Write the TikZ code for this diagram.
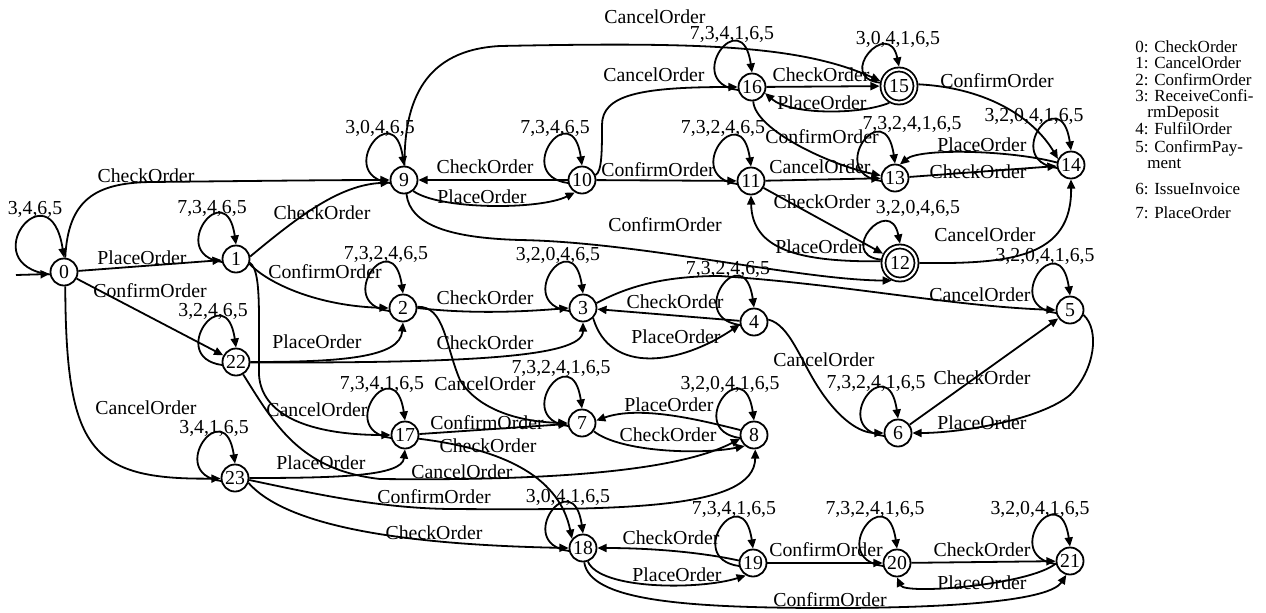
\documentclass[tikz,border=0pt]{standalone}
\usepackage{fontspec}
\setmainfont{Liberation Serif}
\usetikzlibrary{arrows.meta}
\newcommand\lblfont{\fontsize{9.9}{11}\selectfont}
\newcommand\keyfont{\fontsize{8.5}{9}\selectfont}
% self loop on the upper left of a state, with its label
\newcommand\sloop[4]{%
  \draw[e] (#1.192) .. controls +(-56,-8) and +(-10,-71) .. (#1.90);
  \node[lab] (#1-loop) at (#3,#4) {#2};}
\begin{document}
\begin{tikzpicture}[x=0.5pt,y=-0.5pt,
  st/.style={circle,draw,line width=0.9pt,minimum size=13.5pt,inner sep=0pt,font=\lblfont},
  acc/.style={st,double,double distance=1.1pt,minimum size=16.5pt,outer sep=1.45pt},
  e/.style={draw,line width=0.9pt,-{Triangle[length=4.6pt,width=4pt]}},
  lab/.style={inner sep=0pt,font=\lblfont,text height=0.68em,text depth=0pt},
  key/.style={inner sep=0pt,font=\keyfont,anchor=west,text height=0.68em,text depth=0pt}]
\useasboundingbox (0,0) rectangle (1266,612);

% states
\node[st] (n0) at (64,272) {0};
\node[st] (n1) at (236,259) {1};
\node[st] (n2) at (403,308) {2};
\node[st] (n3) at (583,308) {3};
\node[st] (n4) at (754,322) {4};
\node[st] (n5) at (1070,310) {5};
\node[st] (n6) at (898,433) {6};
\node[st] (n7) at (582,423) {7};
\node[st] (n8) at (754,435) {8};
\node[st] (n9) at (404,180) {9};
\node[st] (n10) at (582,180) {10};
\node[st] (n11) at (751,181) {11};
\node[acc] (n12) at (900,263) {12};
\node[st] (n13) at (895,178) {13};
\node[st] (n14) at (1071,165) {14};
\node[acc] (n15) at (899,86) {15};
\node[st] (n16) at (752,87) {16};
\node[st] (n17) at (405,435) {17};
\node[st] (n18) at (583,548) {18};
\node[st] (n19) at (753,563) {19};
\node[st] (n20) at (897,563) {20};
\node[st] (n21) at (1070,561) {21};
\node[st] (n22) at (236,362) {22};
\node[st] (n23) at (235,478) {23};

% initial arrow
\coordinate (init) at (16,275);
\draw[e] (init) -- (n0.188);

% from 0
\draw[e] (n0.190) .. controls +(-78,-10) and +(-14,-92) .. (n0.90);
\node[lab] (n0-loop) at (35,208) {3,4,6,5};
\draw[e] (n0.85) .. controls (68,200) and (95,183) .. (150,182) .. controls (250,181) and (330,180) .. (n9.180);
\node[lab] (l0-9) at (146,176) {CheckOrder};
\draw[e] (n0) -- (n1);
\node[lab] (l0-1) at (142,258) {PlaceOrder};
\draw[e] (n0) -- (n22);
\node[lab] (l0-22) at (150,291) {ConfirmOrder};
\draw[e] (n0.-85) .. controls (66,450) and (90,480) .. (n23.182);
\node[lab] (l0-23) at (146,408) {CancelOrder};

% from 1
\sloop{n1}{7,3,4,6,5}{212}{207}
\draw[e] (n1.10) .. controls (300,215) and (340,185) .. (n9.190);
\node[lab] (l1-9) at (322,213) {CheckOrder};
\draw[e] (n1.-20) .. controls (270,285) and (320,306) .. (n2.180);
\node[lab] (l1-2) at (325,272) {ConfirmOrder};
\draw[e] (n1.-15) .. controls (257,268) and (259,285) .. (259,320) -- (259,375) .. controls (262,420) and (320,435) .. (n17.180);
\node[lab] (l1-17) at (317,410) {CancelOrder};

% from 2
\sloop{n2}{7,3,2,4,6,5}{386}{253}
\draw[e] (n2.0) .. controls (470,314) and (520,312) .. (n3.180);
\node[lab] (l2-3) at (485,298) {CheckOrder};
\draw[e] (n2.5) .. controls (445,306) and (445,345) .. (460,380) .. controls (478,410) and (520,422) .. (n7.180);
\node[lab] (l2-7) at (485,384) {CancelOrder};

% from 3
\sloop{n3}{3,2,0,4,6,5}{558}{254}
\draw[e] (n3.-45) .. controls (610,375) and (680,365) .. (n4.190);
\node[lab] (l3-4) at (676,337) {PlaceOrder};
\draw[e] (n3.20) .. controls (625,288) and (660,276) .. (720,276) .. controls (850,285) and (950,306) .. (n5.180);
\node[lab] (l3-5) at (980,295) {CancelOrder};

% from 4
\sloop{n4}{7,3,2,4,6,5}{728}{268}
\draw[e] (n4) -- (n3);
\node[lab] (l4-3) at (675,302) {CheckOrder};
\draw[e] (n4.10) .. controls (790,325) and (800,360) .. (820,390) .. controls (840,420) and (860,433) .. (n6.180);
\node[lab] (l4-6) at (824,360) {CancelOrder};

% from 5
\sloop{n5}{3,2,0,4,1,6,5}{1045}{255}
\draw[e] (n5.-20) .. controls (1100,330) and (1095,370) .. (1070,395) .. controls (1040,420) and (960,433) .. (n6.0);
\node[lab] (l5-6) at (982,423) {PlaceOrder};

% from 6
\sloop{n6}{7,3,2,4,1,6,5}{876}{382}
\draw[e] (n6) -- (n5);
\node[lab] (l6-5) at (982,378) {CheckOrder};

% from 7
\sloop{n7}{7,3,2,4,1,6,5}{561}{367}
\draw[e] (n7.-35) .. controls (620,452) and (700,455) .. (n8.230);
\node[lab] (l7-8) at (668,435) {CheckOrder};

% from 8
\sloop{n8}{3,2,0,4,1,6,5}{730}{383}
\draw[e] (n8.160) .. controls (700,420) and (640,405) .. (n7.10);
\node[lab] (l8-7) at (669,405) {PlaceOrder};

% from 9
\sloop{n9}{3,0,4,6,5}{380}{127}
\draw[e] (n9.88) .. controls (404,100) and (425,50) .. (500,46) .. controls (700,42) and (800,45) .. (n15.165);
\node[lab] (l9-15) at (655,17) {CancelOrder};
\draw[e] (n9.-50) .. controls (440,210) and (540,210) .. (n10.-120);
\node[lab] (l9-10) at (482,197) {PlaceOrder};
\draw[e] (n9.-80) .. controls (410,225) and (450,238) .. (520,240) .. controls (640,242) and (800,280) .. (n12.-115);
\node[lab] (l9-12) at (665,225) {ConfirmOrder};

% from 10
\sloop{n10}{7,3,4,6,5}{555}{127}
\draw[e] (n10) -- (n9);
\node[lab] (l10-9) at (485,167) {CheckOrder};
\draw[e] (n10.20) .. controls (602,172) and (602,150) .. (602,125) .. controls (602,95) and (640,87) .. (n16.180);
\node[lab] (l10-16) at (654,75) {CancelOrder};
\draw[e] (n10) -- (n11);
\node[lab] (l10-11) at (658,170) {ConfirmOrder};

% from 11
\sloop{n11}{7,3,2,4,6,5}{723}{127}
\draw[e] (n11) -- (n13);
\node[lab] (l11-13) at (820,167) {CancelOrder};
\draw[e] (n11) -- (n12);
\node[lab] (l11-12) at (822,202) {CheckOrder};

% from 12
\draw[e] (n12.170) .. controls +(-45,-5) and +(-10,-50) .. (n12.90);
\node[lab] (n12-loop) at (918,207) {3,2,0,4,6,5};
\draw[e] (n12.175) .. controls (800,262) and (752,250) .. (n11.-90);
\node[lab] (l12-11) at (820,247) {PlaceOrder};
\draw[e] (n12.0) .. controls (1010,264) and (1072,258) .. (n14.-90);
\node[lab] (l12-14) at (985,235) {CancelOrder};

% from 13
\sloop{n13}{7,3,2,4,1,6,5}{912}{123}
\draw[e] (n13) -- (n14);
\node[lab] (l13-14) at (978,172) {CheckOrder};

% from 14
\sloop{n14}{3,2,0,4,1,6,5}{1034}{115}
\draw[e] (n14.170) .. controls (1010,150) and (920,148) .. (n13.70);
\node[lab] (l14-13) at (982,145) {PlaceOrder};

% from 15
\draw[e] (n15.170) .. controls +(-45,-5) and +(-10,-50) .. (n15.90);
\node[lab] (n15-loop) at (898,38) {3,0,4,1,6,5};
\draw[e] (n15.5) .. controls (990,88) and (1035,120) .. (n14.155);
\node[lab] (l15-14) at (997,81) {ConfirmOrder};
\draw[e] (n15.-120) .. controls (860,115) and (790,115) .. (n16.-25);
\node[lab] (l15-16) at (822,103) {PlaceOrder};

% from 16
\sloop{n16}{7,3,4,1,6,5}{732}{33}
\draw[e] (n16) -- (n15);
\node[lab] (l16-15) at (821,75) {CheckOrder};
\draw[e] (n16.-85) .. controls (755,130) and (830,165) .. (n13.170);
\node[lab] (l16-13) at (822,137) {ConfirmOrder};

% from 17
\sloop{n17}{7,3,4,1,6,5}{382}{383}
\draw[e] (n17) -- (n7);
\node[lab] (l17-7) at (487,423) {ConfirmOrder};
\draw[e] (n17.-15) .. controls (510,450) and (560,480) .. (n18.140);
\node[lab] (l17-18) at (488,446) {CheckOrder};

% from 18
\sloop{n18}{3,0,4,1,6,5}{568}{496}
\draw[e] (n18.-70) .. controls (600,590) and (700,590) .. (n19.-120);
\node[lab] (l18-19) at (677,575) {PlaceOrder};
\draw[e] (n18.-85) .. controls (590,600) and (680,608) .. (830,608) .. controls (960,608) and (1050,600) .. (n21.-105);
\node[lab] (l18-21) at (830,600) {ConfirmOrder};

% from 19
\sloop{n19}{7,3,4,1,6,5}{734}{508}
\draw[e] (n19.170) .. controls (700,552) and (650,548) .. (n18.0);
\node[lab] (l19-18) at (671,538) {CheckOrder};
\draw[e] (n19) -- (n20);
\node[lab] (l19-20) at (826,550) {ConfirmOrder};

% from 20
\sloop{n20}{7,3,2,4,1,6,5}{875}{508}
\draw[e] (n20) -- (n21);
\node[lab] (l20-21) at (982,550) {CheckOrder};

% from 21
\sloop{n21}{3,2,0,4,1,6,5}{1040}{508}
\draw[e] (n21.190) .. controls (1030,585) and (905,595) .. (n20.-90);
\node[lab] (l21-20) at (982,583) {PlaceOrder};

% from 22
\sloop{n22}{3,2,4,6,5}{213}{310}
\draw[e] (n22.0) .. controls (340,362) and (400,358) .. (n2.-90);
\node[lab] (l22-2) at (317,342) {PlaceOrder};
\draw[e] (n22.-2) .. controls (460,363) and (583,358) .. (n3.-90);
\node[lab] (l22-3) at (485,343) {CheckOrder};
\draw[e] (n22.-60) .. controls (275,425) and (300,470) .. (380,479) .. controls (560,481) and (680,470) .. (n8.195);
\node[lab] (l22-8) at (462,472) {CancelOrder};

% from 23
\sloop{n23}{3,4,1,6,5}{214}{427}
\draw[e] (n23.0) .. controls (340,478) and (402,476) .. (n17.-90);
\node[lab] (l23-17) at (321,463) {PlaceOrder};
\draw[e] (n23.-8) .. controls (320,495) and (380,508) .. (450,509) .. controls (620,510) and (755,510) .. (n8.-85);
\node[lab] (l23-8) at (434,497) {ConfirmOrder};
\draw[e] (n23.-20) .. controls (290,530) and (420,545) .. (n18.180);
\node[lab] (l23-18) at (434,533) {CheckOrder};

% key to the loop labels
\node[key] (k0) at (1135,46) {0: CheckOrder};
\node[key] (k1) at (1135,62) {1: CancelOrder};
\node[key] (k2) at (1135,78.5) {2: ConfirmOrder};
\node[key] (k3) at (1135,95) {3: ReceiveConfi-};
\node[key] (k3b) at (1147,111) {rmDeposit};
\node[key] (k4) at (1135,128) {4: FulfilOrder};
\node[key] (k5) at (1135,146) {5: ConfirmPay-};
\node[key] (k5b) at (1147,162) {ment};
\node[key] (k6) at (1135,188) {6: IssueInvoice};
\node[key] (k7) at (1135,212) {7: PlaceOrder};
\end{tikzpicture}
\end{document}
